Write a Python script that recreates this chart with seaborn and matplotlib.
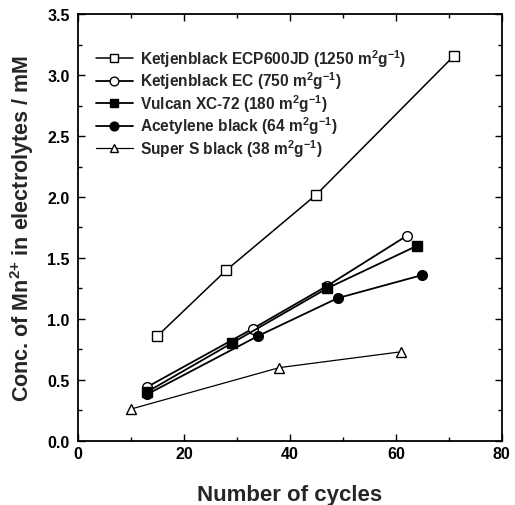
import matplotlib
matplotlib.use("Agg")
import matplotlib.pyplot as plt
import seaborn as sns
import pandas as pd
from matplotlib.ticker import MultipleLocator

sns.set_theme(style="ticks")
plt.rcParams['font.family'] = ['Liberation Sans', 'DejaVu Sans']
plt.rcParams['mathtext.fontset'] = 'custom'
plt.rcParams['mathtext.rm'] = 'Liberation Sans:bold'
plt.rcParams['mathtext.it'] = 'Liberation Sans:bold'
plt.rcParams['mathtext.bf'] = 'Liberation Sans:bold'

labels = [
    r"Ketjenblack ECP600JD (1250 m$^{2}$g$^{-1}$)",
    r"Ketjenblack EC (750 m$^{2}$g$^{-1}$)",
    r"Vulcan XC-72 (180 m$^{2}$g$^{-1}$)",
    r"Acetylene black (64 m$^{2}$g$^{-1}$)",
    r"Super S black (38 m$^{2}$g$^{-1}$)",
]
x_ecp600 = [15, 28, 45, 71]
y_ecp600 = [0.86, 1.40, 2.02, 3.16]
x_ec = [13, 33, 47, 62]
y_ec = [0.44, 0.92, 1.27, 1.68]
x_vulcan = [13, 29, 47, 64]
y_vulcan = [0.40, 0.80, 1.25, 1.60]
x_acet = [13, 34, 49, 65]
y_acet = [0.38, 0.86, 1.17, 1.36]
x_supers = [10, 38, 61]
y_supers = [0.26, 0.60, 0.73]

xs = [x_ecp600, x_ec, x_vulcan, x_acet, x_supers]
ys = [y_ecp600, y_ec, y_vulcan, y_acet, y_supers]
markers = ['s', 'o', 's', 'o', '^']
fills = ['white', 'white', 'black', 'black', 'white']
lws = [1.1, 1.3, 1.3, 1.3, 0.9]

fig = plt.figure(figsize=(5.15, 5.06), dpi=100)
ax = fig.add_axes([0.1515, 0.127, 0.823, 0.843])

for lab, x, y, m, fc, lw in zip(labels, xs, ys, markers, fills, lws):
    df = pd.DataFrame({"x": x, "y": y})
    sns.lineplot(data=df, x="x", y="y", ax=ax, color='black', marker=m,
                 markersize=7, markerfacecolor=fc, markeredgecolor='black',
                 markeredgewidth=1.0, linewidth=lw, label=lab, sort=False)

ax.set_xlim(0, 80)
ax.set_ylim(0, 3.5)
ax.xaxis.set_major_locator(MultipleLocator(20))
ax.xaxis.set_minor_locator(MultipleLocator(10))
ax.yaxis.set_minor_locator(MultipleLocator(0.25))
ax.set_yticks([0, 0.5, 1.0, 1.5, 2.0, 2.5, 3.0, 3.5])
ax.set_yticklabels(["0.0", "0.5", "1.0", "1.5", "2.0", "2.5", "3.0", "3.5"])
ax.tick_params(which='both', direction='in', top=True, right=True, width=1.0,
               labelsize=11.5, colors='black')
ax.tick_params(which='major', length=5)
ax.tick_params(which='minor', length=3)
ax.tick_params(axis='y', which='major', pad=6)
for t in ax.get_xticklabels() + ax.get_yticklabels():
    t.set_fontweight('bold')
for s in ax.spines.values():
    s.set_linewidth(1.3)
    s.set_color('black')

ax.set_xlabel("Number of cycles", fontsize=16, fontweight='bold', labelpad=17)
ax.set_ylabel(r"Conc. of Mn$^{2{+}}$ in electrolytes / mM", fontsize=15.5,
              fontweight='bold', labelpad=8)

leg = ax.legend(loc='upper left', bbox_to_anchor=(0.02, 0.945), frameon=False,
                fontsize=11.2, handlelength=2.4, handletextpad=0.45,
                labelspacing=0.05, borderaxespad=0.2, markerscale=0.9)
for t in leg.get_texts():
    t.set_fontweight('bold')

fig.savefig("out.png", dpi=100)
